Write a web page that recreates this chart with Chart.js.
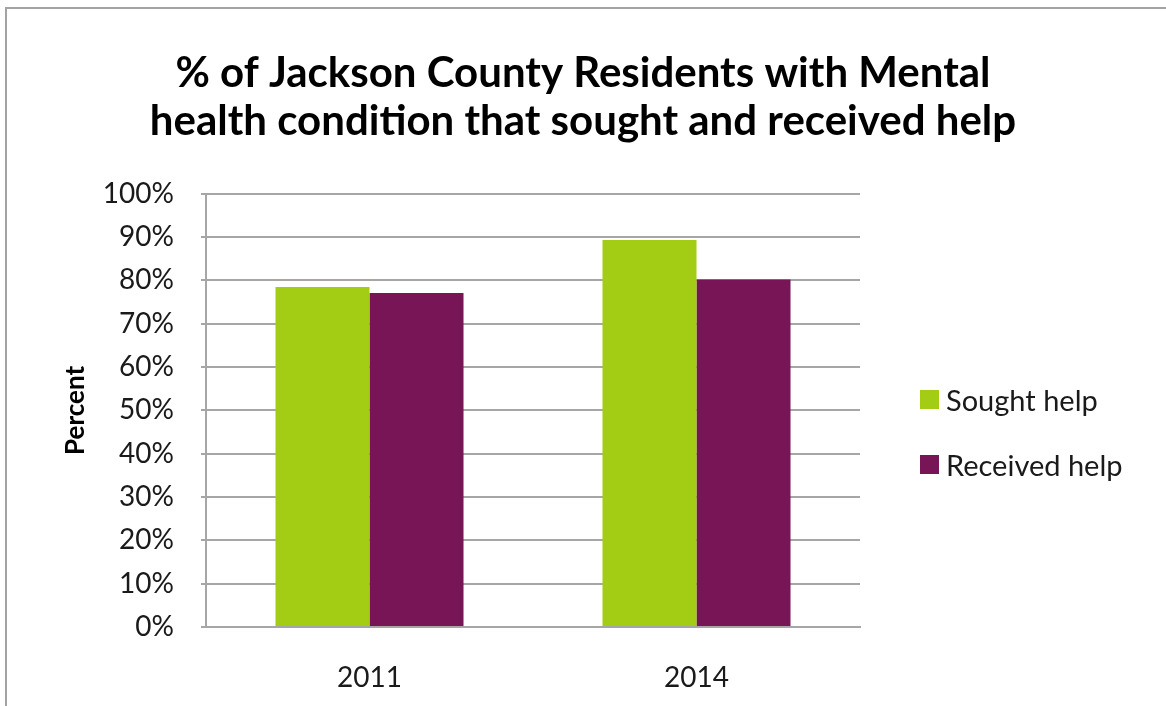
<!DOCTYPE html>
<html>
<head>
<meta charset="utf-8">
<script src="https://cdn.jsdelivr.net/npm/chart.js@4"></script>
<style>
  html, body { margin: 0; padding: 0; background: #fff; }
  #wrap { position: relative; width: 1166px; height: 706px; overflow: hidden; }
  #frame { position: absolute; left: 5px; top: 7px; right: -10px; bottom: -10px;
           border-top: 2px solid #a3a3a3; border-left: 2px solid #a3a3a3; }
  #chart { position: absolute; left: 0; top: 0; }
  #legend { position: absolute; left: 920px; top: 382px; font-family: Lato, sans-serif;
            font-size: 29px; color: #1a1a1a; }
  #legend .item { display: flex; align-items: center; height: 35px; margin-bottom: 30px; }
  #legend .box { width: 19px; height: 19px; margin-right: 7px; }
</style>
</head>
<body>
<div id="wrap">
  <div id="frame"></div>
  <canvas id="chart" width="1166" height="706"></canvas>
  <div id="legend"></div>
</div>
<script>
var years = ['2011', '2014'];
var soughtHelp = [78.5, 89.3];
var receivedHelp = [77.1, 80.2];
var seriesNames = ['Sought help', 'Received help'];
var seriesColors = ['#a3cd15', '#771556'];
var titleLines = ['% of Jackson County Residents with Mental', 'health condition that sought and received help'];

var FONT = 'Lato';

new Chart(document.getElementById('chart').getContext('2d'), {
    type: 'bar',
    data: {
        labels: years,
        datasets: [{
            label: seriesNames[0],
            data: soughtHelp,
            backgroundColor: seriesColors[0],
            borderWidth: 0
        }, {
            label: seriesNames[1],
            data: receivedHelp,
            backgroundColor: seriesColors[1],
            borderWidth: 0
        }]
    },
    options: {
        responsive: false,
        animation: false,
        layout: { padding: 0 },
        datasets: { bar: { categoryPercentage: 0.575, barPercentage: 1.0 } },
        plugins: {
            legend: { display: false },
            tooltip: { enabled: false },
            title: {
                display: true,
                text: titleLines,
                color: '#000',
                font: { family: FONT, size: 42, weight: 'bold', lineHeight: 1.14 },
                padding: { top: 50, bottom: 48 }
            }
        },
        scales: {
            x: {
                grid: { display: false },
                border: { display: true, color: '#a6a6a6', width: 2 },
                ticks: { color: '#1a1a1a', padding: 26, font: { family: FONT, size: 28 } },
                afterFit: function(axis) { axis.height = 706 - 627; }
            },
            y: {
                min: 0,
                max: 100,
                ticks: {
                    stepSize: 10,
                    color: '#1a1a1a',
                    padding: 27,
                    font: { family: FONT, size: 28 },
                    callback: function(v) { return v + '%'; }
                },
                grid: { color: '#a6a6a6', lineWidth: 2, tickLength: 5, tickColor: '#a6a6a6' },
                border: { display: true, color: '#a6a6a6', width: 2 },
                title: {
                    display: true,
                    text: 'Percent',
                    color: '#000',
                    font: { family: FONT, size: 26, weight: 'bold' },
                    padding: { top: 60 }
                },
                afterFit: function(axis) { axis.width = 206; }
            },
            // empty right-hand axis that reserves room for the legend
            side: {
                type: 'linear',
                position: 'right',
                grid: { display: false },
                border: { display: false },
                ticks: { display: false },
                afterFit: function(axis) { axis.width = 1166 - 860; }
            }
        }
    }
});

// legend on the right, built from the series arrays
var legendEl = document.getElementById('legend');
seriesNames.forEach(function(name, i) {
    var item = document.createElement('div');
    item.className = 'item';
    var box = document.createElement('span');
    box.className = 'box';
    box.style.background = seriesColors[i];
    var txt = document.createElement('span');
    txt.textContent = name;
    item.appendChild(box);
    item.appendChild(txt);
    legendEl.appendChild(item);
});
</script>
</body>
</html>
